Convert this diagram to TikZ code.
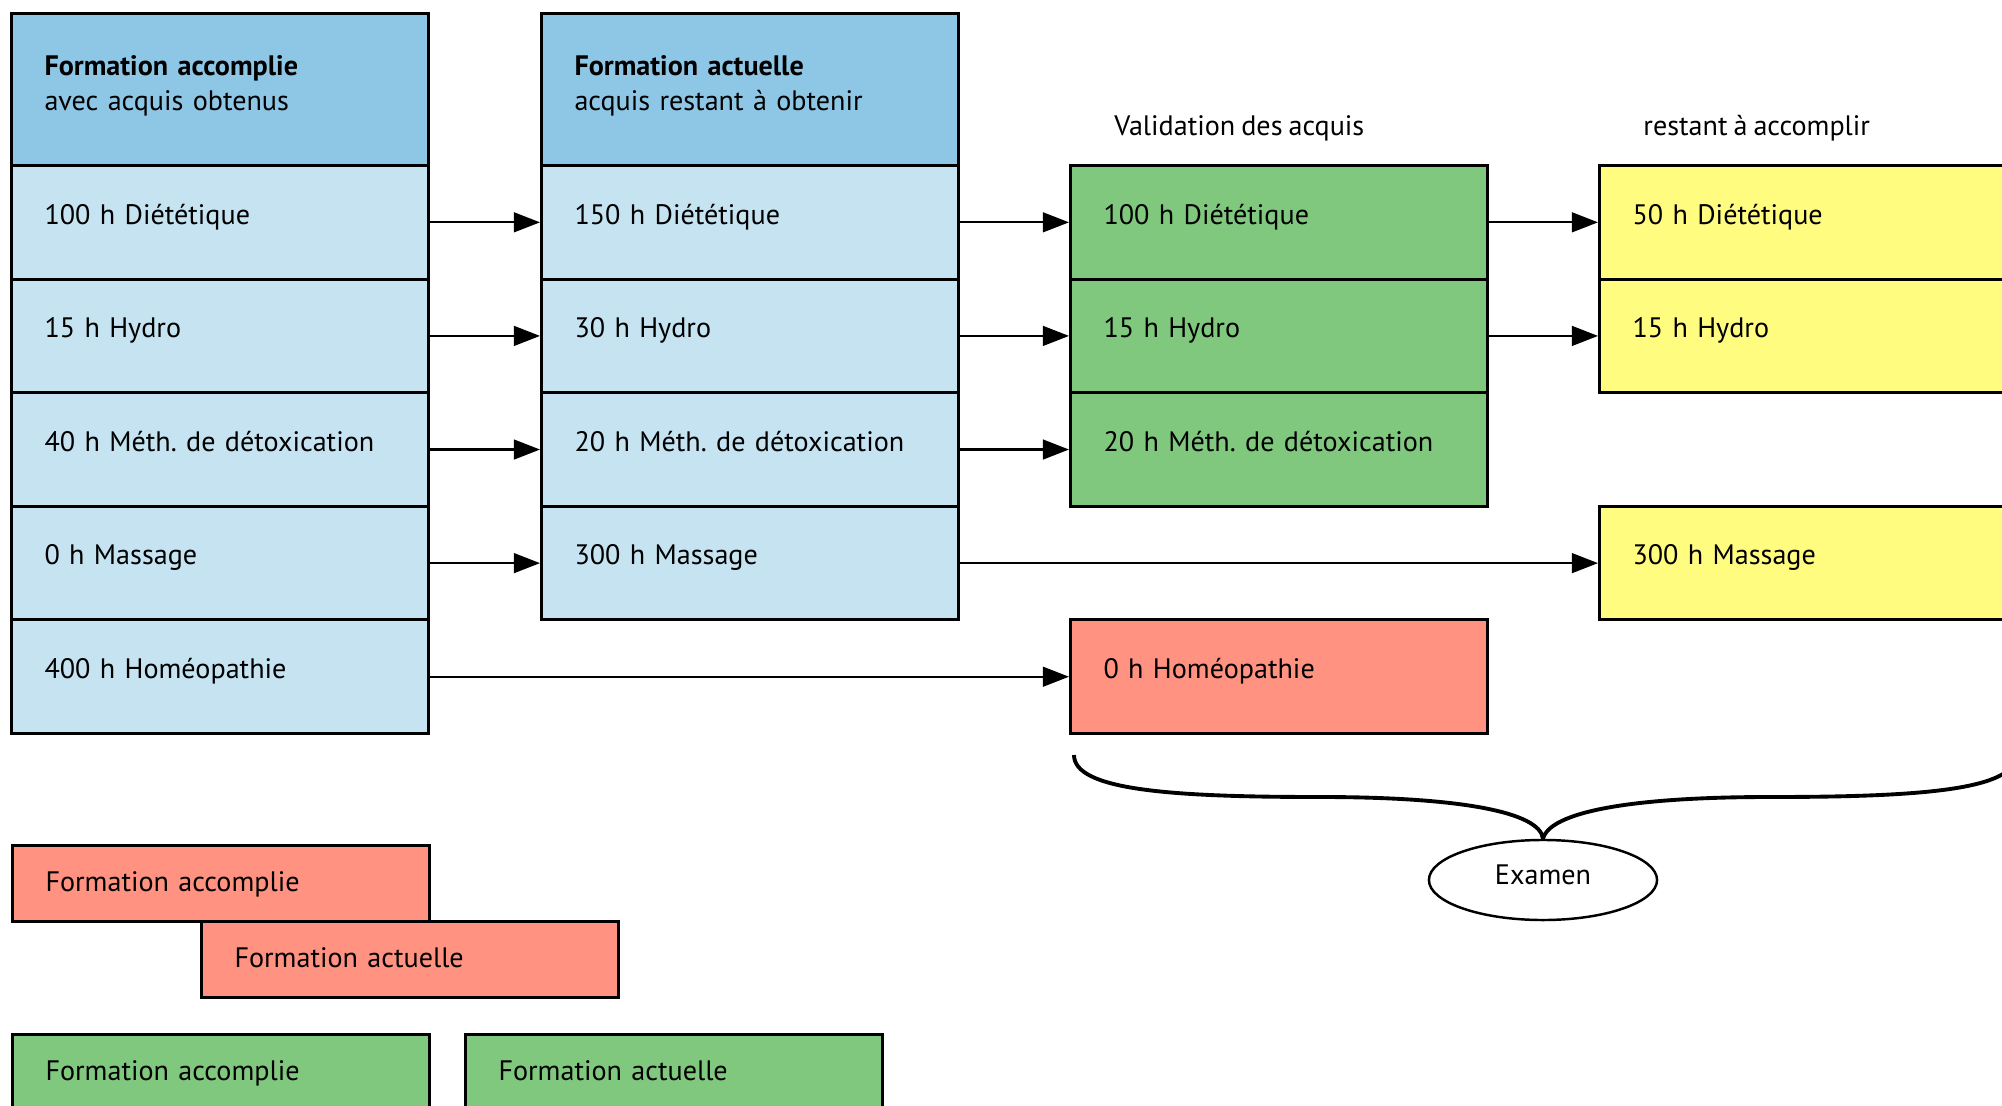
\documentclass[tikz,border=0pt]{standalone}
\usepackage{fontspec}
\setmainfont{PT Sans}[WordSpace=0.8]
\frenchspacing
\usetikzlibrary{arrows.meta,shapes.geometric}
\definecolor{headblue}{RGB}{142,199,230}
\definecolor{rowblue}{RGB}{197,227,241}
\definecolor{valgreen}{RGB}{128,200,126}
\definecolor{salmon}{RGB}{255,146,128}
\definecolor{paleyellow}{RGB}{255,252,128}
\tikzset{
  box/.style={draw, line width=0.85pt, anchor=north west, minimum width=4.17cm, text width=3.51cm, inner xsep=0.33cm, inner ysep=0pt, align=left},
  cell/.style={box, minimum height=1.136cm, text height=0.6em, text depth=0.5em},
  head/.style={box, fill=headblue, minimum height=1.52cm, text depth=13.8pt},
  tag/.style={box, minimum height=0.76cm, text height=0.7em, text depth=0.25em},
  arr/.style={line width=0.6pt, -{Triangle[length=7.4pt,width=5.6pt]}}
}

\begin{document}
\begin{tikzpicture}[x=0.01cm, y=-0.01cm, font=\fontsize{8pt}{10pt}\selectfont]
	\clip (0,0) rectangle (2002,1106);
	\node[head] (h1) at (10,12) {\textbf{Formation accomplie}\\avec acquis obtenus};
	\node[cell,fill=rowblue] (a1) at (10,164) {100 h Diététique};
	\node[cell,fill=rowblue] (a2) at (10,277.6) {15 h Hydro};
	\node[cell,fill=rowblue] (a3) at (10,391.2) {40 h Méth. de détoxication};
	\node[cell,fill=rowblue] (a4) at (10,504.8) {0 h Massage};
	\node[cell,fill=rowblue] (a5) at (10,618.4) {400 h Homéopathie};

	\node[head] (h2) at (540,12) {\textbf{Formation actuelle}\\acquis restant à obtenir};
	\node[cell,fill=rowblue] (b1) at (540,164) {150 h Diététique};
	\node[cell,fill=rowblue] (b2) at (540,277.6) {30 h Hydro};
	\node[cell,fill=rowblue] (b3) at (540,391.2) {20 h Méth. de détoxication};
	\node[cell,fill=rowblue] (b4) at (540,504.8) {300 h Massage};

	\node[anchor=base west] (valtitle) at (1102,136) {Validation des acquis};
	\node[cell,fill=valgreen] (c1) at (1069,164) {100 h Diététique};
	\node[cell,fill=valgreen] (c2) at (1069,277.6) {15 h Hydro};
	\node[cell,fill=valgreen] (c3) at (1069,391.2) {20 h Méth. de détoxication};
	\node[cell,fill=salmon] (c5) at (1069,618.4) {0 h Homéopathie};

	\node[anchor=base west] (resttitle) at (1631,136) {restant à accomplir};
	\node[cell,fill=paleyellow] (d1) at (1598,164) {50 h Diététique};
	\node[cell,fill=paleyellow] (d2) at (1598,277.6) {15 h Hydro};
	\node[cell,fill=paleyellow] (d4) at (1598,504.8) {300 h Massage};

	\draw[arr] (a1.east) -- (b1.west);
	\draw[arr] (a2.east) -- (b2.west);
	\draw[arr] (a3.east) -- (b3.west);
	\draw[arr] (a4.east) -- (b4.west);
	\draw[arr] (a5.east) -- (c5.west);
	\draw[arr] (b1.east) -- (c1.west);
	\draw[arr] (b2.east) -- (c2.west);
	\draw[arr] (b3.east) -- (c3.west);
	\draw[arr] (b4.east) -- (d4.west);
	\draw[arr] (c1.east) -- (d1.west);
	\draw[arr] (c2.east) -- (d2.west);

	\node[draw, ellipse, line width=0.7pt, inner sep=0pt, minimum width=2.28cm, minimum height=0.8cm, text height=0.65em, text depth=0.4em] (exam) at (1543,880) {Examen};
	\coordinate (bl) at (1074,755);
	\coordinate (br) at (2016,755);
	\draw[line width=1.1pt] (bl) .. controls (1074,790) and (1170,797) .. (1320,797) .. controls (1460,797) and (1540,812) .. (exam.north);
	\draw[line width=1.1pt] (br) .. controls (2016,790) and (1920,797) .. (1770,797) .. controls (1630,797) and (1550,812) .. (exam.north);

	\node[tag,fill=salmon] (r1) at (11,844) {Formation accomplie};
	\node[tag,fill=salmon] (r2) at (200,920) {Formation actuelle};
	\node[tag,fill=valgreen] (g1) at (11,1033) {Formation accomplie};
	\node[tag,fill=valgreen] (g2) at (464,1033) {Formation actuelle};
\end{tikzpicture}
\end{document}
